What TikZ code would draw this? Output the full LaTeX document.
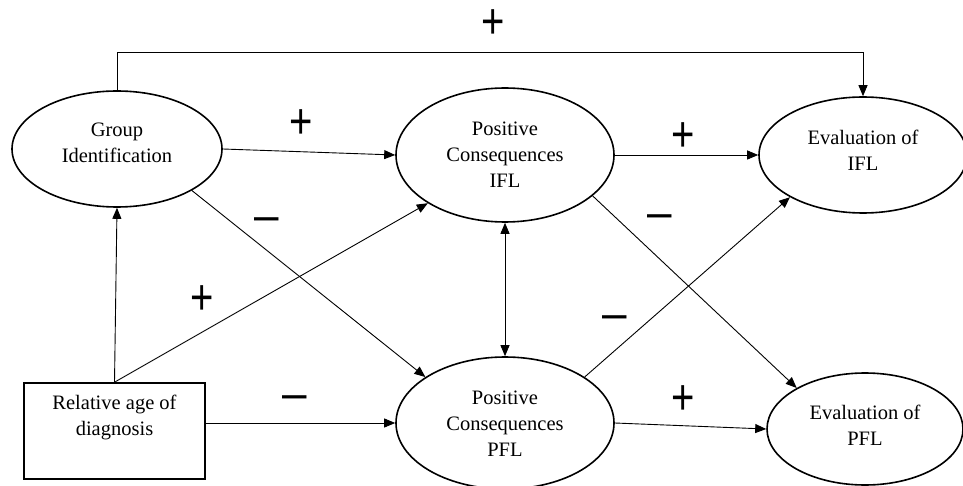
\documentclass[tikz,border=0pt]{standalone}
\usepackage{fontspec}
\usepackage{graphicx}
\setmainfont{Liberation Serif}
\newfontfamily\signfont{Liberation Sans}
\usetikzlibrary{shapes.geometric,arrows.meta}
\tikzset{
  ell/.style={ellipse,draw,line width=1.6pt,inner sep=0pt},
  boxnode/.style={rectangle,draw,line width=1.6pt,inner sep=0pt},
  txt/.style={align=center,font=\fontsize{20.5}{26}\selectfont,inner sep=0pt},
  conn/.style={line width=0.9pt,-{Triangle[length=11pt,width=9pt]}},
  dconn/.style={line width=0.9pt,{Triangle[length=11pt,width=9pt]}-{Triangle[length=11pt,width=9pt]}},
  plain/.style={line width=0.9pt},
  sgn/.style={font=\signfont\fontsize{40}{40}\selectfont,inner sep=0pt},
}
\newcommand{\plussign}{\scalebox{1}[1.25]{+}}
\newcommand{\minussign}{\scalebox{1.1}[1.2]{–}}
\begin{document}
\begin{tikzpicture}[x=1pt,y=-1pt]
\useasboundingbox (0,0) rectangle (963,486);
% nodes
\node[ell,minimum width=210pt,minimum height=116pt] (g) at (117,149) {};
\node[ell,minimum width=218pt,minimum height=134pt] (pi) at (505,155) {};
\node[ell,minimum width=208pt,minimum height=116pt] (ei) at (863,155) {};
\node[ell,minimum width=218pt,minimum height=132pt] (pp) at (505,423) {};
\node[ell,minimum width=196pt,minimum height=112pt] (ep) at (865,429) {};
\node[boxnode,minimum width=181pt,minimum height=96pt] (b) at (114.5,431) {};
% texts
\node[txt] (gt) at (117,143) {Group\\Identification};
\node[txt] (pit) at (505,155) {Positive\\Consequences\\IFL};
\node[txt] (eit) at (863,150) {Evaluation of\\IFL};
\node[txt] (ppt) at (505,424) {Positive\\Consequences\\PFL};
\node[txt] (ept) at (865,425) {Evaluation of\\PFL};
\node[txt] (bt) at (114.5,417) {Relative age of\\diagnosis};
% connectors
\coordinate (topc) at (117,52);
\draw[plain] (g.north) -- (topc);
\draw[conn] (topc) -| (ei.north);
\draw[conn] (g.east) -- (pi.west);
\draw[conn] (g.-29.2) -- (pp.150.6);
\draw[conn] (b.north) -- (g.south);
\draw[conn] (b.north) -- (pi.212.7);
\draw[conn] ([yshift=8pt]b.east) -- (pp.west);
\draw[conn] (pi.east) -- (ei.west);
\draw[conn] (pi.-25) -- (ep.149);
\draw[conn] (pp.30.5) -- (ei.210.7);
\draw[dconn] (pi.south) -- (pp.north);
\draw[conn] (pp.east) -- (ep.west);
% signs
\node[sgn] (s1) at (493,24) {\plussign};
\node[sgn] (s2) at (301,124) {\plussign};
\node[sgn] (s3) at (267,225) {\minussign};
\node[sgn] (s4) at (683,137) {\plussign};
\node[sgn] (s5) at (660,222) {\minussign};
\node[sgn] (s6) at (202,300) {\plussign};
\node[sgn] (s7) at (295,403) {\minussign};
\node[sgn] (s8) at (615,323) {\minussign};
\node[sgn] (s9) at (683,400) {\plussign};
\end{tikzpicture}
\end{document}
